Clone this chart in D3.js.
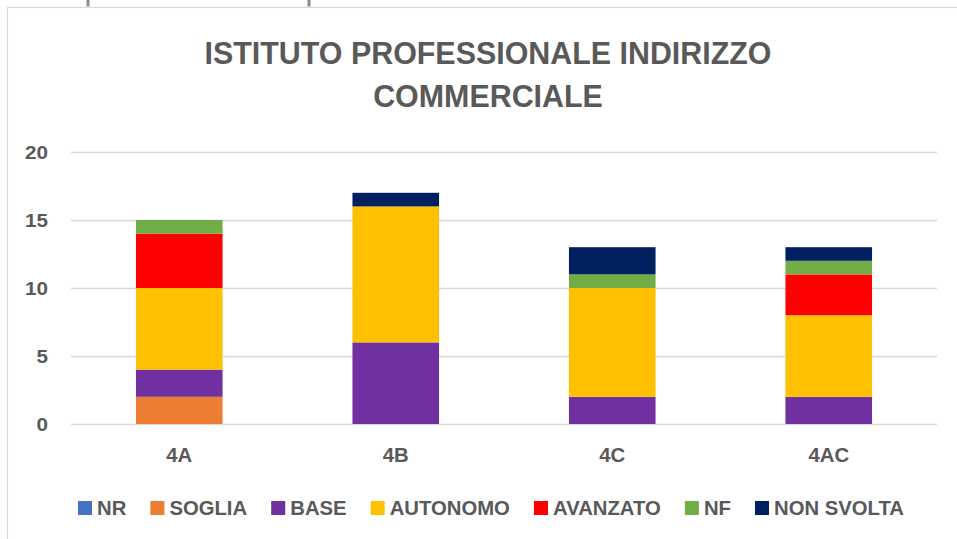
<!DOCTYPE html>
<html>
<head>
<meta charset="utf-8">
<script src="https://cdn.jsdelivr.net/npm/d3@7"></script>
<style>
  html, body { margin: 0; padding: 0; background: #fff; }
  svg { display: block; }
  text { font-family: "Liberation Sans", Arial, sans-serif; font-weight: bold; fill: #595959; }
</style>
</head>
<body>
<script>
// ---------- DATA ----------
const categories = ["4A", "4B", "4C", "4AC"];
const seriesNames = ["NR", "SOGLIA", "BASE", "AUTONOMO", "AVANZATO", "NF", "NON SVOLTA"];
const seriesColors = ["#4472C4", "#ED7D31", "#7030A0", "#FFC000", "#FF0000", "#70AD47", "#002060"];
const NR         = [0, 0, 0, 0];
const SOGLIA     = [2, 0, 0, 0];
const BASE       = [2, 6, 2, 2];
const AUTONOMO   = [6, 10, 8, 6];
const AVANZATO   = [4, 0, 0, 3];
const NF         = [1, 0, 1, 1];
const NON_SVOLTA = [0, 1, 2, 1];
const yTicks = [0, 5, 10, 15, 20];
const titleLines = ["ISTITUTO PROFESSIONALE INDIRIZZO", "COMMERCIALE"];

const seriesValues = [NR, SOGLIA, BASE, AUTONOMO, AVANZATO, NF, NON_SVOLTA];
const table = categories.map((c, i) => {
  const row = { cat: c };
  seriesNames.forEach((s, k) => row[s] = seriesValues[k][i]);
  return row;
});

// ---------- LAYOUT ----------
const W = 957, H = 539;
const svg = d3.select("body").append("svg").attr("width", W).attr("height", H);

function measure(str, size) {
  const t = svg.append("text").attr("font-size", size).text(str);
  const w = t.node().getComputedTextLength();
  t.remove();
  return w;
}

// decorative frame pieces
svg.append("rect").attr("x", 7.5).attr("y", 7.5).attr("width", W + 20).attr("height", H + 20)
  .attr("fill", "none").attr("stroke", "#d9d9d9").attr("stroke-width", 1.2);
[88, 309].forEach(x => svg.append("line").attr("x1", x).attr("x2", x).attr("y1", 0).attr("y2", 6.5)
  .attr("stroke", "#8c8c8c").attr("stroke-width", 3));

// title (Calibri-like proportions: taller font, horizontally condensed)
const titleSize = 31;
const titleRatio = 567 / measure(titleLines[0], titleSize);
svg.append("g").selectAll("text").data(titleLines).join("text")
  .attr("x", 488).attr("y", (d, i) => 63.5 + i * 43.5)
  .attr("text-anchor", "middle").attr("font-size", titleSize)
  .attr("textLength", d => measure(d, titleSize) * titleRatio)
  .attr("lengthAdjust", "spacingAndGlyphs")
  .text(d => d);

// scales
const x = d3.scaleBand().domain(categories).range([71, 937]).paddingInner(0.6).paddingOuter(0.3);
const y = d3.scaleLinear().domain([0, 20]).range([424, 152]);

// y axis + gridlines
const tickSize = 18.6;
const tickRatio = 23 / measure("20", tickSize);
const yAxis = svg.append("g").attr("transform", "translate(71,0)")
  .call(d3.axisLeft(y).tickValues(yTicks).tickSizeInner(-866).tickSizeOuter(0).tickPadding(23));
yAxis.select(".domain").remove();
yAxis.selectAll(".tick line").attr("stroke", "#d9d9d9").attr("stroke-width", 1.5);
yAxis.selectAll(".tick text").attr("font-size", tickSize).attr("fill", "#595959")
  .attr("font-family", null).attr("dy", null).attr("y", 6.5)
  .attr("textLength", d => measure(String(d), tickSize) * tickRatio)
  .attr("lengthAdjust", "spacingAndGlyphs");

// stacked bars
const stack = d3.stack().keys(seriesNames)(table);
svg.append("g").selectAll("g").data(stack).join("g")
  .attr("fill", (d, i) => seriesColors[i])
  .selectAll("rect").data(d => d).join("rect")
  .attr("x", d => x(d.data.cat))
  .attr("width", x.bandwidth())
  .attr("y", d => y(d[1]))
  .attr("height", d => y(d[0]) - y(d[1]));

// x axis labels
const xSize = 19.5;
const xRatio = 26 / measure("4A", xSize);
const xAxis = svg.append("g").attr("transform", "translate(0,424)")
  .call(d3.axisBottom(x).tickSize(0).tickPadding(0));
xAxis.select(".domain").remove();
xAxis.selectAll(".tick text").attr("font-size", xSize).attr("fill", "#595959")
  .attr("font-family", null).attr("y", 38).attr("dy", 0)
  .attr("textLength", d => measure(d, xSize) * xRatio)
  .attr("lengthAdjust", "spacingAndGlyphs");

// legend
const legSize = 19.5;
const legRatio = 130 / measure("NON SVOLTA", legSize);
const widths = seriesNames.map(s => measure(s, legSize) * legRatio);
const itemW = widths.map(w => 19 + w);
const gap = (826 - d3.sum(itemW)) / (seriesNames.length - 1);
const legG = svg.append("g");
let cx = 78;
seriesNames.forEach((s, i) => {
  const g = legG.append("g").attr("transform", `translate(${cx},0)`);
  g.append("rect").attr("x", 0).attr("y", 501).attr("width", 14).attr("height", 14).attr("fill", seriesColors[i]);
  g.append("text").attr("x", 19).attr("y", 515).attr("font-size", legSize)
    .attr("textLength", widths[i]).attr("lengthAdjust", "spacingAndGlyphs").text(s);
  cx += itemW[i] + gap;
});
</script>
</body>
</html>
